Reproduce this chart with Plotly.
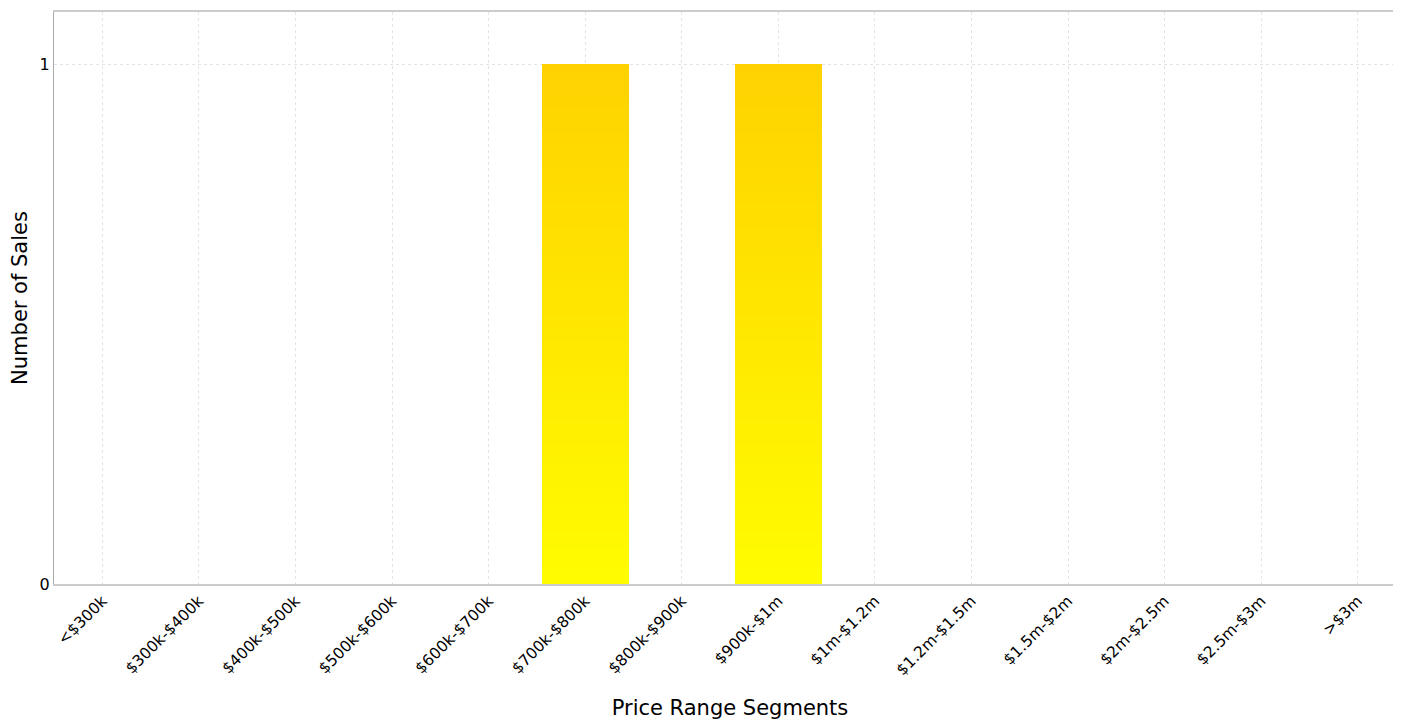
import plotly.graph_objects as go

categories = ["<$300k", "$300k-$400k", "$400k-$500k", "$500k-$600k", "$600k-$700k",
              "$700k-$800k", "$800k-$900k", "$900k-$1m", "$1m-$1.2m", "$1.2m-$1.5m",
              "$1.5m-$2m", "$2m-$2.5m", "$2.5m-$3m", ">$3m"]
sales = [0, 0, 0, 0, 0, 1, 0, 1, 0, 0, 0, 0, 0, 0]

# vertical gradient: bottom yellow -> top gold
color_bottom = (255, 252, 0)
color_top = (255, 210, 0)
N = 60

fig = go.Figure()
for i in range(N):
    t = (i + 0.5) / N
    c = tuple(round(color_bottom[k] + (color_top[k] - color_bottom[k]) * t) for k in range(3))
    fig.add_trace(go.Bar(
        x=categories,
        y=[v / N for v in sales],
        marker=dict(color="rgb(%d,%d,%d)" % c, line=dict(width=0)),
        showlegend=False,
        hoverinfo="skip",
    ))

fig.update_layout(
    width=1401, height=720,
    barmode="stack", bargap=0.1,
    plot_bgcolor="white", paper_bgcolor="white",
    margin=dict(l=46, r=3, t=4, b=144, autoexpand=False),
    font=dict(family="DejaVu Sans", size=16, color="#000"),
    xaxis=dict(
        title=dict(text="Price Range Segments", font=dict(size=21), standoff=22),
        tickangle=-45, automargin=False,
        showgrid=True, gridcolor="#e4e4e4", griddash="dot", gridwidth=1,
        showline=True, linecolor="#cccccc", linewidth=1.5, mirror=True,
        ticks="", tickfont=dict(size=15.5),
    ),
    yaxis=dict(
        title=dict(text="Number of Sales", font=dict(size=21), standoff=12),
        range=[0, 1.1], dtick=1, tick0=0, automargin=False,
        showgrid=True, gridcolor="#e4e4e4", griddash="dot", gridwidth=1,
        zeroline=False,
        showline=True, linecolor="#aaaaaa", linewidth=1,
        ticks="", tickfont=dict(size=16),
    ),
)

fig.write_html("out.html")
